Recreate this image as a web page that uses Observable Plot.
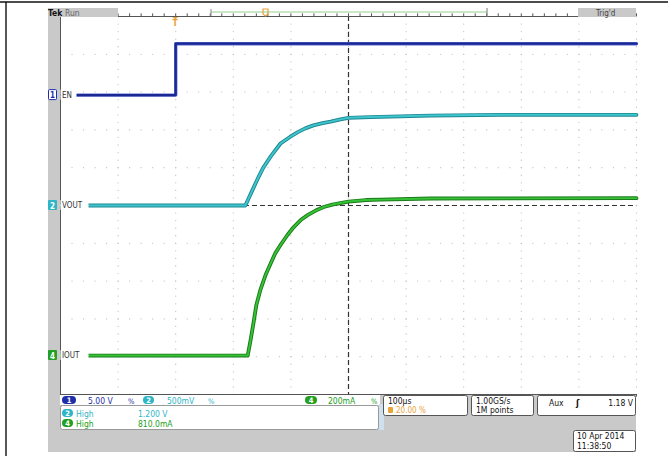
<!DOCTYPE html>
<html><head><meta charset="utf-8">
<script src="https://cdn.jsdelivr.net/npm/d3@7"></script>
<script src="https://cdn.jsdelivr.net/npm/@observablehq/plot@0.6"></script>
<style>body{margin:0;background:#fff;overflow:hidden}#chart svg{display:block}</style>
</head><body><div id="chart"></div>
<script>
// ---- data ----
// time in µs (100 µs/div, trigger at 20 %)
const enTime   = [-200, 0, 0, 800];
const enVolts  = [0, 0, 6.8, 6.8];

const voutTime  = [-200, 121, 133, 144, 152, 165, 182, 199, 212, 225, 239, 255, 269, 286, 300, 338, 390, 442, 564, 800];
const voutVolts = [0, 0, 0.20, 0.38, 0.50, 0.65, 0.82, 0.91, 0.97, 1.02, 1.06, 1.09, 1.11, 1.14, 1.16, 1.17, 1.18, 1.19, 1.20, 1.20];

const ioutTime = [-200, 125, 130, 135, 140, 147, 156, 165, 173, 182, 194, 205, 217, 229, 243, 257, 272, 286, 300, 330, 356, 442, 800];
const ioutMilliamps = [0, 0, 82, 172, 267, 347, 426, 489, 542, 585, 638, 680, 717, 743, 767, 786, 799, 807, 815, 823, 825, 831, 833];

const channelNumbers = ["1", "2", "4"];
const channelNames = ["EN", "VOUT", "IOUT"];
const channelScaleLabels = ["5.00 V", "500mV", "200mA"];
const channelPerDiv = [5, 0.5, 200];
const channelPosition = [2.92, 0, -3.97];

const measureChannels = ["2", "4"];
const measureNames = ["High", "High"];
const measureValues = ["1.200 V", "810.0mA"];

const timeDivLabel = "100µs";
const triggerPosLabel = "20.00 %";
const sampleRateLabel = "1.00GS/s";
const recordLabel = "1M points";
const triggerSourceLabel = "Aux";
const triggerLevelLabel = "1.18 V";
const dateLabel = "10 Apr 2014";
const timeLabel = "11:38:50";

// ---- build ----
const toDiv = (v, i) => channelPosition[i] + v / channelPerDiv[i];
const en = enTime.map((t, k) => ({t, d: toDiv(enVolts[k], 0)}));
const vout = voutTime.map((t, k) => ({t, d: toDiv(voutVolts[k], 1)}));
const iout = ioutTime.map((t, k) => ({t, d: toDiv(ioutMilliamps[k], 2)}));

const majorX = d3.range(-200, 801, 100);
const minorX = d3.range(-200, 801, 20);
const majorY = d3.range(-5, 6, 1);
const minorY = d3.range(-5, 5.001, 0.2);
const gridDots = [];
for (const x of majorX) for (const y of minorY) gridDots.push({x, y});
for (const y of majorY) for (const x of minorX) gridDots.push({x, y});

const W = 668, H = 456;
const blue = "#1f2fa8", cyan = "#2fb5c6", green = "#22a022", orange = "#e8a33a", panel = "#c9c9c9";
const FONT = "'DejaVu Sans Condensed','DejaVu Sans',sans-serif";

const plot = Plot.plot({
  width: W, height: H,
  marginLeft: 60, marginRight: 32, marginTop: 16, marginBottom: 62,
  x: {domain: [-200, 800], axis: null},
  y: {domain: [-5, 5], axis: null},
  style: {background: "#fff", overflow: "visible", fontFamily: FONT},
  marks: [
    Plot.dot(gridDots, {x: "x", y: "y", r: 0.65, fill: "#c2c2c2", stroke: null}),
    Plot.ruleX([300], {stroke: "#333", strokeWidth: 1.2, strokeDasharray: "5,3"}),
    Plot.ruleY([0], {stroke: "#333", strokeDasharray: "5,3"}),
    Plot.ruleX([-200], {stroke: "#555"}),
    Plot.ruleY([5, -5], {stroke: "#555"}),
    Plot.ruleX(minorX, {y1: 5, y2: 5.07, stroke: "#555"}),
    Plot.ruleX(minorX, {y1: -5, y2: -5.07, stroke: "#555"}),
    Plot.line(en, {x: "t", y: "d", stroke: "#5a6ad0", strokeWidth: 3.4}),
    Plot.line(en, {x: "t", y: "d", stroke: "#1a2896", strokeWidth: 2.2}),
    Plot.line(vout, {x: "t", y: "d", stroke: "#1e8790", strokeWidth: 3.8}),
    Plot.line(vout, {x: "t", y: "d", stroke: "#3ec5cd", strokeWidth: 1.9}),
    Plot.line(iout, {x: "t", y: "d", stroke: "#1b7a1b", strokeWidth: 3.8}),
    Plot.line(iout, {x: "t", y: "d", stroke: "#36c236", strokeWidth: 1.9})
  ]
});
document.getElementById("chart").appendChild(plot);

// ---- scope chrome ----
const svg = d3.select(plot);
const xs = plot.scale("x"), ys = plot.scale("y");
const g = svg.append("g").attr("font-family", FONT);
const rect = (x, y, w, h, fill, stroke, rx) => g.append("rect").attr("x", x).attr("y", y).attr("width", w).attr("height", h)
  .attr("fill", fill).attr("stroke", stroke || "none").attr("rx", rx || 0);
const text = (x, y, s, fill, size, anchor, weight) => g.append("text").attr("x", x).attr("y", y).text(s)
  .attr("fill", fill).attr("font-size", size || 8.5).attr("text-anchor", anchor || "start").attr("font-weight", weight || "normal");
const line = (x1, y1, x2, y2, stroke, w) => g.append("line").attr("x1", x1).attr("y1", y1).attr("x2", x2).attr("y2", y2)
  .attr("stroke", stroke).attr("stroke-width", w || 1);

// outer frame lines
line(0, 2, W, 2, "#111", 1.4);
line(6, 2, 6, H, "#111", 1.4);

// left strip and top bar
const gl = xs.apply(-200), gr = xs.apply(800), gt = ys.apply(5), gb = ys.apply(-5);
rect(48, 8, gl - 48, 444, panel);
rect(48, 8, 70, 9, panel);
text(48, 15.5, "Tek", "#111", 8.5, "start", "bold");
text(65, 15.5, "Run", "#666", 8.5);
rect(578, 8, gr - 578, 9, panel);
text(596, 15.5, "Trig'd", "#444", 8);
// record bar
line(211, 12, 487, 12, "#8fd08f", 1);
line(211, 9, 211, 16, "#888", 1);
line(487, 8, 487, 17, "#777", 1);
g.append("path").attr("d", "M263,9 h5 v5 l-2.5,2 l-2.5,-2 z").attr("fill", "none").attr("stroke", orange).attr("stroke-width", 1.2);
// trigger marker
const tx = xs.apply(0);
g.append("path").attr("d", `M${tx-3},${gt+1} h6 l-3,2.5 z`).attr("fill", orange);
text(tx, gt + 10, "T", orange, 8.5, "middle", "bold");

// channel labels on the left
const chColors = [blue, cyan, green];
channelNames.forEach((name, i) => {
  const y = ys.apply(channelPosition[i]);
  const lw = name.length * 6 + 4;
  rect(gl + 0.5, y - 5, lw, 10, "#fff");
  if (i === 0) {
    rect(48.5, y - 5, 8, 10, "#fff", chColors[i], 1);
    text(52.5, y + 3.5, channelNumbers[i], chColors[i], 8, "middle", "bold");
  } else {
    rect(48, y - 5, 9, 10, chColors[i], null, 1);
    text(52.5, y + 3.5, channelNumbers[i], "#fff", 8, "middle", "bold");
  }
  text(gl + 2, y + 3, name, "#333", 8);
});

// bottom panel
rect(gl, gb + 1, gr - gl, 57, panel);
rect(gl, gb + 1, 320, 10, "#fff");
rect(gl + 0.5, gb + 11.5, 318, 24, "#fff", "#999", 2);
// row 1: channel scales
const pill = (x, y, w, fill, label) => { rect(x, y - 4, w, 8, fill, null, 4); text(x + w / 2, y + 3, label, "#fff", 7.5, "middle", "bold"); };
const row1 = gb + 6;
pill(62, row1, 14, blue, channelNumbers[0]);
text(88, row1 + 3.5, channelScaleLabels[0], blue);
text(128, row1 + 3.5, "%", blue, 7.5);
pill(143, row1, 11, cyan, channelNumbers[1]);
text(167, row1 + 3.5, channelScaleLabels[1], cyan);
text(208, row1 + 3.5, "%", cyan, 7.5);
pill(305, row1, 12, green, channelNumbers[2]);
text(328, row1 + 3.5, channelScaleLabels[2], green);
text(371, row1 + 3.5, "%", green, 7.5);
// rows 2/3: measurements
measureChannels.forEach((c, i) => {
  const y = gb + 19 + i * 10;
  const col = c === "2" ? cyan : green;
  pill(62, y, 11, col, c);
  text(76, y + 3.5, measureNames[i], col);
  text(138, y + 3.5, measureValues[i], col);
});
// light bracket
rect(379, gb + 10, 5, 26, "#cfe0ee");
// right info boxes
rect(383.5, gb + 1.5, 84, 20, "#fff", "#555", 2);
text(388, gb + 10, timeDivLabel, "#111", 8.5);
rect(388, gb + 13, 5, 6, orange, null, 1);
text(396, gb + 19, triggerPosLabel, orange, 8);
rect(471.5, gb + 1.5, 62, 20, "#fff", "#555", 2);
text(476, gb + 10, sampleRateLabel, "#111", 8.5);
text(476, gb + 19, recordLabel, "#111", 8.5);
rect(537.5, gb + 1.5, gr - 538, 20, "#fff", "#555", 2);
text(549, gb + 12, triggerSourceLabel, "#111", 8.5);
text(576, gb + 12, "ʃ", "#111", 9, "start", "bold");
text(gr - 3, gb + 12, triggerLevelLabel, "#111", 8.5, "end");
// date box
rect(573.5, gb + 36.5, gr - 574, 21, "#fff", "#555", 2);
text(577, gb + 45, dateLabel, "#111", 8.5);
text(577, gb + 55, timeLabel, "#111", 8.5);
</script>
</body></html>
